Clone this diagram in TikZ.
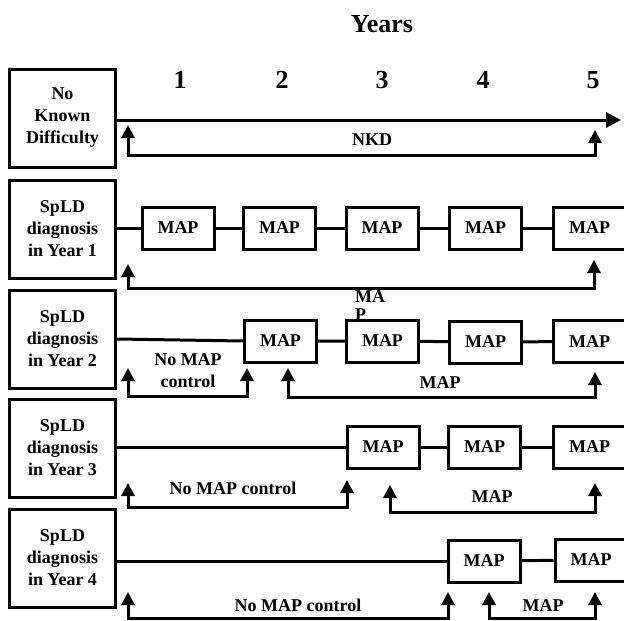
\documentclass[tikz,border=0pt]{standalone}
\usepackage{fontspec}
\setmainfont{Liberation Serif}
\usetikzlibrary{arrows.meta}
\begin{document}
\begin{tikzpicture}[x=1pt,y=-1pt,
  lbox/.style={draw,line width=3pt,minimum width=106pt,minimum height=98pt,inner sep=0pt,align=center,font=\bfseries\fontsize{18}{22}\selectfont},
  mapbox/.style={draw,line width=3pt,minimum width=72pt,minimum height=42pt,inner sep=0pt,font=\bfseries\fontsize{18}{22}\selectfont},
  link/.style={line width=3pt},
  brk/.style={line width=3pt,line join=miter,{Triangle[length=13pt,width=13pt]}-{Triangle[length=13pt,width=13pt]}},
  lbl/.style={inner sep=0pt,align=center,font=\bfseries\fontsize{18}{22}\selectfont},
  yr/.style={inner sep=0pt,font=\bfseries\fontsize{26}{29}\selectfont}]
\useasboundingbox (0,0) rectangle (624,621);
\clip (0,0) rectangle (624,621);
% title and year numbers
\node[yr] (title) at (382,24) {Years};
\node[yr] (y1) at (180,80) {1};
\node[yr] (y2) at (282,80) {2};
\node[yr] (y3) at (382,80) {3};
\node[yr] (y4) at (483,80) {4};
\node[yr] (y5) at (593,80) {5};
% left boxes
\node[lbox] (B0) at (62.5,118) {No\\Known\\Difficulty};
\node[lbox] (B1) at (62.5,229) {SpLD\\diagnosis\\in Year 1};
\node[lbox] (B2) at (62.5,339) {SpLD\\diagnosis\\in Year 2};
\node[lbox] (B3) at (62.5,448) {SpLD\\diagnosis\\in Year 3};
\node[lbox] (B4) at (62.5,558) {SpLD\\diagnosis\\in Year 4};
% NKD timeline
\coordinate (nkdend) at (621,120);
\draw[line width=3pt,-{Triangle[length=15pt,width=15pt]}] (B0.east |- nkdend) -- (nkdend);
% row Year 1
\node[mapbox] (m11) at (178,228) {MAP};
\node[mapbox] (m12) at (279.5,228) {MAP};
\node[mapbox] (m13) at (382,228) {MAP};
\node[mapbox] (m14) at (485.5,228) {MAP};
\node[mapbox] (m15) at (589.5,228) {MAP};
\draw[link] (B1.east |- m11.west) -- (m11.west);
\draw[link] (m11) -- (m12) (m12) -- (m13) (m13) -- (m14) (m14) -- (m15);
% row Year 2
\node[mapbox] (m22) at (280.5,341) {MAP};
\node[mapbox] (m23) at (382.5,341) {MAP};
\node[mapbox] (m24) at (485.5,342) {MAP};
\node[mapbox] (m25) at (589.5,341.5) {MAP};
\draw[link] (B2.east) -- (m22.west);
\draw[link] (m22) -- (m23) (m23) -- (m24) (m24) -- (m25);
% row Year 3
\node[mapbox] (m33) at (383,447) {MAP};
\node[mapbox] (m34) at (484.5,447) {MAP};
\node[mapbox] (m35) at (589.5,447) {MAP};
\draw[link] (B3.east |- m33.west) -- (m33.west);
\draw[link] (m33) -- (m34) (m34) -- (m35);
% row Year 4
\node[mapbox] (m44) at (484,561) {MAP};
\node[mapbox] (m45) at (591,560) {MAP};
\draw[link] (B4.east |- m44.west) -- (m44.west);
\draw[link] (m44) -- (m45);
% brackets
\coordinate (a1l) at (128,125); \coordinate (a1r) at (595,130); \coordinate (a1b) at (0,155);
\draw[brk] (a1l) -- (a1l |- a1b) -- (a1r |- a1b) -- (a1r);
\node[lbl] (t1) at (372,140) {NKD};
\coordinate (a2l) at (128,264); \coordinate (a2r) at (594,260); \coordinate (a2b) at (0,288);
\draw[brk] (a2l) -- (a2l |- a2b) -- (a2r |- a2b) -- (a2r);
\node[lbl,anchor=north west,align=left,font=\bfseries\fontsize{18}{18}\selectfont] (t2) at (355,290) {MA\\P};
\coordinate (a3l) at (128,368); \coordinate (a3r) at (247,368); \coordinate (a3b) at (0,396);
\draw[brk] (a3l) -- (a3l |- a3b) -- (a3r |- a3b) -- (a3r);
\node[lbl] (t3) at (188,371) {No MAP\\control};
\coordinate (a4l) at (288,368); \coordinate (a4r) at (595,372); \coordinate (a4b) at (0,397);
\draw[brk] (a4l) -- (a4l |- a4b) -- (a4r |- a4b) -- (a4r);
\node[lbl] (t4) at (440,383) {MAP};
\coordinate (a5l) at (128,483); \coordinate (a5r) at (347,480); \coordinate (a5b) at (0,507);
\draw[brk] (a5l) -- (a5l |- a5b) -- (a5r |- a5b) -- (a5r);
\node[lbl] (t5) at (233,488) {No MAP control};
\coordinate (a6l) at (390,485); \coordinate (a6r) at (595,483); \coordinate (a6b) at (0,512);
\draw[brk] (a6l) -- (a6l |- a6b) -- (a6r |- a6b) -- (a6r);
\node[lbl] (t6) at (492,497) {MAP};
\coordinate (a7l) at (128,592); \coordinate (a7r) at (448,592); \coordinate (a7b) at (0,618);
\draw[brk] (a7l) -- (a7l |- a7b) -- (a7r |- a7b) -- (a7r);
\node[lbl] (t7) at (298,605) {No MAP control};
\coordinate (a8l) at (489,592); \coordinate (a8r) at (595,592); \coordinate (a8b) at (0,618);
\draw[brk] (a8l) -- (a8l |- a8b) -- (a8r |- a8b) -- (a8r);
\node[lbl] (t8) at (543,606) {MAP};
\end{tikzpicture}
\end{document}
